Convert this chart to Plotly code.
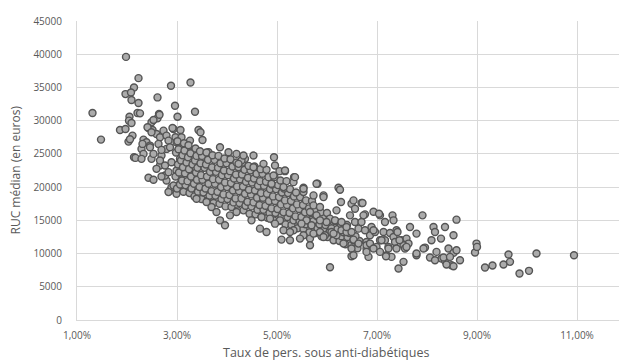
import plotly.graph_objects as go

# ---- data (rate in %, RUC in euros) ----
rate_left = [1.98, 1.31, 1.48, 2.23, 2.14, 1.97, 2.08, 2.09, 2.23, 2.21, 2.26, 2.05, 2.04, 2.09, 1.86, 1.97,
             2.11, 2.03, 2.06, 2.14, 2.17, 2.43, 2.53, 2.61, 2.88, 3.27, 2.96, 3.36, 3.01, 2.64, 2.61, 2.49,
             2.43, 2.51, 2.33, 2.39, 2.46, 2.29, 2.33, 2.59, 2.66, 2.73, 2.79, 2.93, 3.07, 2.97, 3.43, 3.47,
             3.51, 2.49, 2.69, 2.79, 2.66, 2.79, 2.76, 2.86, 2.99, 2.53, 2.65, 2.41, 2.49, 2.83, 2.91, 3.09,
             2.31, 2.46, 2.63, 2.53, 2.69, 2.86, 2.99, 3.13, 3.26, 3.23, 2.29, 2.66, 2.76, 2.59, 2.89, 3.06,
             2.99, 2.83, 2.69, 2.89, 2.83, 3.06, 3.06, 2.93, 3.09, 3.16, 3.33, 3.46, 3.19, 3.36, 3.46, 3.56,
             3.53, 3.63, 3.39, 3.53]
ruc_left = [39600, 31150, 27150, 36400, 35000, 34000, 34250, 33100, 32650, 31150, 31100, 30600, 30000, 29650, 28600, 28750,
            27750, 26850, 27200, 24500, 24400, 21400, 21100, 33500, 35250, 35750, 32250, 31350, 30600, 31000, 30350, 29750,
            28900, 28600, 27150, 26750, 26250, 25750, 25000, 28000, 27500, 28500, 27750, 28750, 28600, 27500, 28600, 28250,
            27100, 24250, 24750, 25750, 23250, 21000, 21750, 19500, 19000, 30100, 30900, 29000, 28250, 27000, 28900, 27500,
            26500, 26000, 26500, 25000, 25600, 26000, 26750, 26250, 27000, 25500, 24250, 24000, 23250, 22750, 23750, 24250,
            22500, 22250, 21600, 20000, 19250, 20500, 22000, 20250, 19750, 20000, 20000, 19500, 21500, 22000, 22500, 21500,
            24500, 25250, 20250, 19750]

rate_core = [3.00, 3.06, 2.97, 3.04, 3.02, 3.08, 2.98, 3.03, 3.01,
             3.13, 3.17, 3.10, 3.16, 3.12, 3.19, 3.11, 3.15, 3.14,
             3.25, 3.29, 3.21, 3.28, 3.24, 3.31, 3.22, 3.27, 3.23,
             3.35, 3.42, 3.34, 3.40, 3.38, 3.41, 3.36, 3.39, 3.37,
             3.49, 3.53, 3.45, 3.51, 3.48, 3.55, 3.47, 3.50, 3.46,
             3.61, 3.65, 3.57, 3.63, 3.60, 3.66, 3.58, 3.62, 3.59,
             3.73, 3.77, 3.69, 3.76, 3.72, 3.78, 3.70, 3.75, 3.71,
             3.85, 3.89, 3.81, 3.88, 3.84, 3.90, 3.82, 3.87, 3.83,
             3.97, 4.01, 3.93, 4.00, 3.96, 4.02, 3.94, 3.99, 3.95,
             4.09, 4.13, 4.05, 4.12, 4.08, 4.14, 4.06, 4.11, 4.07,
             4.21, 4.25, 4.17, 4.24, 4.20, 4.26, 4.18, 4.23, 4.19,
             4.33, 4.37, 4.29, 4.36, 4.32, 4.38, 4.30, 4.35, 4.31,
             4.45, 4.49, 4.41, 4.48, 4.44, 4.50, 4.42, 4.47, 4.43,
             4.57, 4.61, 4.53, 4.60, 4.56, 4.62, 4.54, 4.59, 4.55,
             4.69, 4.73, 4.65, 4.72, 4.68, 4.74, 4.66, 4.71, 4.67,
             4.81, 4.85, 4.77, 4.84, 4.80, 4.86, 4.78, 4.83, 4.79,
             4.93, 4.97, 4.89, 4.96, 4.92, 4.98, 4.90, 4.95,
             5.05, 5.09, 5.01, 5.08, 5.04, 5.10, 5.02, 5.07,
             5.17, 5.21, 5.13, 5.20, 5.16, 5.22, 5.14, 5.19,
             5.29, 5.33, 5.25, 5.32, 5.28, 5.34, 5.26,
             5.41, 5.45, 5.37, 5.44, 5.40, 5.46, 5.38,
             5.53, 5.57, 5.49, 5.56, 5.52, 5.58,
             5.65, 5.69, 5.61, 5.68, 5.64, 5.70,
             5.77, 5.81, 5.73, 5.80, 5.76,
             5.89, 5.93, 5.85, 5.92, 5.88,
             6.01, 6.05, 5.97, 6.04, 6.00,
             6.13, 6.17, 6.09, 6.16,
             6.25, 6.29, 6.21, 6.28,
             6.37, 6.41, 6.33, 6.40,
             6.49, 6.53, 6.45,
             6.61, 6.65, 6.57]
ruc_core = [19800, 20400, 21600, 22200, 23400, 24000, 25200, 25700, 26900,
            19300, 20300, 21000, 22100, 23000, 23700, 24800, 25500, 26600,
            19100, 19800, 20900, 21600, 22700, 23400, 24500, 25100, 26300,
            18600, 19300, 20500, 21100, 22200, 22900, 24000, 24700, 25800,
            18200, 19200, 20000, 21100, 21800, 22900, 23600, 24700, 25400,
            18000, 18700, 19800, 20500, 21600, 22300, 23400, 24100, 25200,
            17600, 18700, 19400, 20500, 21200, 22300, 23000, 24100, 24800,
            17500, 18200, 19300, 20000, 21100, 21800, 22900, 23600, 24700,
            17100, 18200, 18900, 20000, 20700, 21800, 22500, 23600, 24300,
            17000, 17700, 18800, 19500, 20600, 21300, 22400, 23100, 24200,
            16500, 17600, 18300, 19400, 20100, 21200, 21900, 23000, 23700,
            16500, 17200, 18300, 19000, 20100, 20800, 21900, 22600, 23700,
            16000, 17100, 17800, 18900, 19600, 20700, 21400, 22500, 23200,
            15900, 16600, 17700, 18400, 19500, 20200, 21300, 22000, 23100,
            15500, 16600, 17300, 18400, 19100, 20200, 20900, 22000, 22700,
            15400, 16100, 17200, 17900, 19000, 19700, 20800, 21500, 22600,
            15000, 16100, 16800, 17900, 18600, 19700, 20400, 21500,
            14900, 15600, 16700, 17400, 18500, 19200, 20300, 21000,
            14400, 15500, 16200, 17300, 18000, 19100, 19800, 20900,
            14300, 15000, 16100, 16800, 17900, 18600, 19700,
            13800, 14900, 15600, 16700, 17400, 18500, 19200,
            13700, 14400, 15500, 16200, 17300, 18000,
            13200, 14300, 15000, 16100, 16800, 17900,
            13100, 13800, 14900, 15600, 16700,
            12600, 13700, 14400, 15500, 16200,
            12500, 13200, 14300, 15000, 16100,
            12000, 13100, 13800, 14900,
            11900, 12600, 13700, 14400,
            11400, 12500, 13200, 14300,
            11300, 12000, 13100,
            10800, 11900, 12600]

rate_mid = [4.94, 4.96, 5.16, 5.05, 4.93, 4.89, 5.34, 5.33, 5.13, 5.53, 5.53, 5.81, 5.73, 5.93, 6.23, 6.26,
            6.28, 6.49, 6.56, 6.69, 6.46, 6.76, 6.19, 6.06, 5.99, 6.16, 6.29, 5.73, 5.86, 5.66, 5.79, 5.59,
            5.86, 5.49, 5.69, 5.06, 5.13, 5.33, 5.53, 5.66, 5.09, 5.73, 5.86, 5.96, 6.09, 6.19, 6.29, 6.39,
            6.49, 6.63, 6.56, 6.33, 6.53, 6.63, 6.79, 6.86, 6.49, 6.79, 6.49, 5.66, 5.46, 5.26, 5.93, 6.53,
            6.73, 5.26, 5.93, 6.13, 6.39, 6.06, 6.53, 6.83, 4.66, 4.79, 3.86, 3.96, 4.49, 4.69, 4.86, 4.96,
            4.03, 4.19, 4.36, 4.53, 4.73, 3.86, 4.29, 4.33, 4.23, 4.53, 5.16, 5.36, 5.53, 5.79, 3.69, 3.79,
            4.06, 4.19, 3.59, 3.39]
ruc_mid = [24500, 23250, 22400, 22400, 21750, 20500, 21500, 20750, 20000, 19900, 19250, 20500, 18750, 18750, 19900, 19600,
           17750, 17500, 16750, 17600, 15750, 15900, 16500, 15250, 14750, 15000, 14750, 17250, 17000, 16250, 15750, 15000,
           15000, 14500, 14250, 15000, 13500, 13500, 12750, 12250, 12100, 13000, 13250, 12750, 13250, 12750, 13500, 13250,
           13250, 13750, 14750, 11500, 12100, 11500, 11750, 12750, 10750, 10750, 9600, 11250, 12250, 12000, 18500, 18000,
           15750, 13250, 12500, 13000, 14000, 7950, 9750, 9500, 13750, 13250, 15000, 14250, 15000, 15500, 15250, 14500,
           25250, 25000, 24250, 24750, 23500, 26000, 24000, 24750, 23500, 23000, 22500, 21500, 19750, 20500, 17000, 16250,
           15750, 16250, 17750, 18250]

rate_right = [6.71, 6.93, 7.06, 7.16, 7.31, 7.33, 7.91, 8.59, 7.66, 8.13, 8.16, 8.36, 7.79, 8.28, 8.53, 8.09,
              7.96, 7.79, 8.06, 8.19, 8.29, 8.43, 8.53, 8.59, 8.66, 8.49, 8.36, 8.16, 8.53, 8.39, 8.33, 8.46,
              8.96, 8.99, 9.00, 9.16, 9.31, 9.53, 9.63, 9.66, 9.85, 10.04, 10.19, 10.94,
              6.69, 6.76, 6.89, 6.96, 7.13, 7.26, 7.39, 7.06, 7.16, 7.33, 7.49, 7.59, 7.63, 6.99, 7.23, 7.36,
              7.39, 7.19, 7.29, 7.53, 7.56, 7.79, 7.93, 6.79, 6.86, 6.93, 7.06, 7.43, 7.53, 6.79, 6.93, 7.09,
              7.23, 7.41, 7.45, 7.59, 7.18, 7.04]
ruc_right = [17600, 16300, 15750, 14750, 15750, 15000, 15750, 15100, 14000, 14000, 13250, 14000, 13000, 12250, 12750, 12000,
             10900, 9750, 9400, 10250, 9250, 10750, 10100, 10500, 9000, 8250, 8900, 9000, 8100, 8350, 9400, 9500,
             10150, 11500, 11000, 7900, 8200, 8350, 9850, 8750, 7000, 7400, 10000, 9750,
             14750, 13500, 14000, 13250, 13250, 13100, 13500, 12000, 12000, 12500, 12000, 12250, 11500, 11000, 11000, 11750,
             10750, 9750, 9500, 11250, 10750, 10000, 10750, 11250, 11500, 10750, 10250, 7750, 8750, 10250, 13500, 12000,
             10750, 13250, 12000, 11000, 9600, 16000]

x_ticks = [1, 3, 5, 7, 9, 11]
x_tick_text = ["1,00%", "3,00%", "5,00%", "7,00%", "9,00%", "11,00%"]
y_ticks = [0, 5000, 10000, 15000, 20000, 25000, 30000, 35000, 40000, 45000]

rate = rate_left + rate_core + rate_mid + rate_right
ruc = ruc_left + ruc_core + ruc_mid + ruc_right

text_col = "#595959"
grid_col = "#d9d9d9"

fig = go.Figure(go.Scatter(
    x=rate, y=ruc, mode="markers",
    marker=dict(size=7, color="#ababab", line=dict(color="#545454", width=1.4)),
    hoverinfo="skip",
))

fig.update_layout(
    width=619, height=363,
    margin=dict(l=77, r=0, t=21, b=43),
    paper_bgcolor="white", plot_bgcolor="white",
    showlegend=False,
    font=dict(family="Open Sans", color=text_col, size=10),
    xaxis=dict(range=[1, 11.84], tickvals=x_ticks, ticktext=x_tick_text,
               showgrid=True, gridcolor=grid_col, gridwidth=1,
               zeroline=False, showline=True, linecolor=grid_col, linewidth=1,
               ticks="", ticklabelstandoff=6, tickfont=dict(size=10, color=text_col)),
    yaxis=dict(range=[0, 45000], tickvals=y_ticks, tickformat="d",
               showgrid=True, gridcolor=grid_col, gridwidth=1,
               zeroline=False, showline=True, linecolor=grid_col, linewidth=1,
               ticks="", ticklabelstandoff=12, tickfont=dict(size=10, color=text_col)),
    annotations=[
        dict(text="Taux de pers. sous anti-diabétiques", xref="paper", yref="paper",
             x=(326 - 77) / 542, y=-(352 - 320) / 299, xanchor="center", yanchor="middle",
             showarrow=False, font=dict(size=12.5, color=text_col)),
        dict(text="RUC médian (en euros)", xref="paper", yref="paper",
             x=-(77 - 15) / 542, y=0.5, xanchor="center", yanchor="middle", textangle=-90,
             showarrow=False, font=dict(size=12, color=text_col)),
    ],
)

fig.write_html("out.html", config={"displayModeBar": False},
               post_script="document.body.style.margin='0';")
